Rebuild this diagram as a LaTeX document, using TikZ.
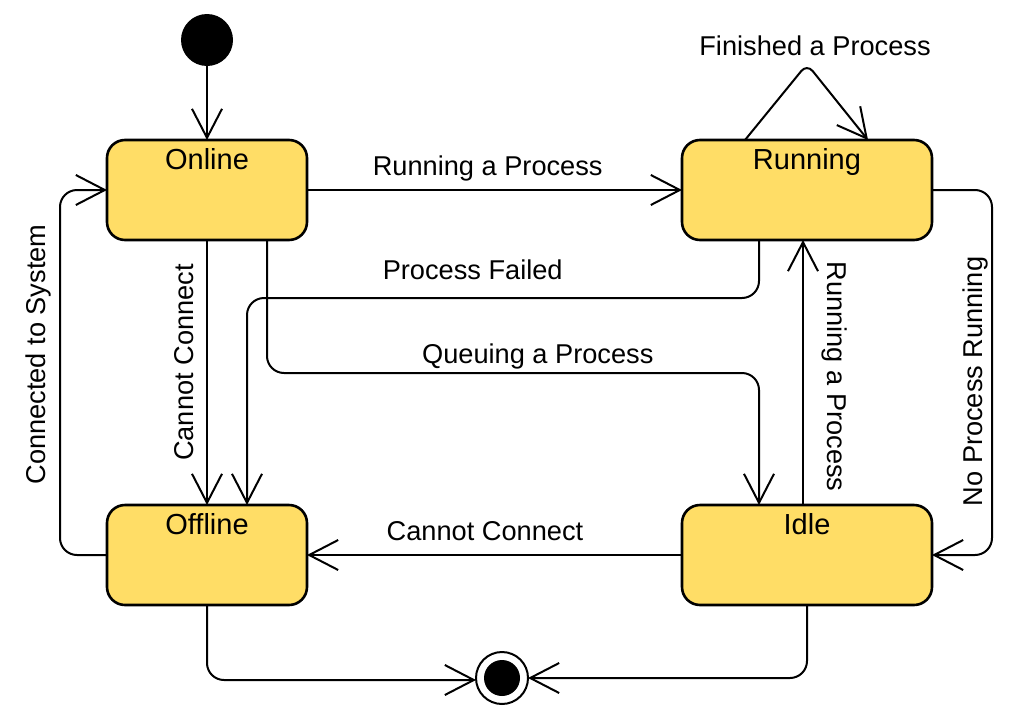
\documentclass[tikz,border=0pt]{standalone}
\usepackage{fontspec}
\setmainfont{Liberation Sans}
\usetikzlibrary{arrows.meta}
\definecolor{stateyellow}{HTML}{FFDD66}
\begin{document}
\begin{tikzpicture}[x=1pt, y=-1pt,
  lbl/.style={font=\fontsize{27.2}{32}\selectfont, anchor=base, inner sep=0pt},
  statebox/.style={draw, line width=2.6pt, fill=stateyellow, rounded corners=18pt,
    minimum width=200pt, minimum height=100pt, outer sep=0pt},
  widebox/.style={statebox, minimum width=250pt},
  boxlbl/.style={lbl, font=\fontsize{29}{34}\selectfont, yshift=-29.3pt},
  startdot/.style={circle, fill=black, minimum size=52pt, inner sep=0pt, outer sep=0pt},
  enddot/.style={circle, draw, line width=2pt, fill=white, minimum size=52pt, inner sep=0pt, outer sep=0pt,
    path picture={\fill[black] (path picture bounding box.center) circle (18pt);}},
  trans/.style={draw, line width=2pt, rounded corners=17pt, -{Straight Barb[length=29pt, width=30pt]}}]
\useasboundingbox (0,0) rectangle (1009,715);
% states
\node[startdot] (init) at (207,40) {};
\node[statebox, label={[boxlbl]north:Online}] (online) at (207,190) {};
\node[widebox, label={[boxlbl]north:Running}] (running) at (807,190) {};
\node[statebox, label={[boxlbl]north:Offline}] (offline) at (207,555) {};
\node[widebox, label={[boxlbl]north:Idle}] (idle) at (807,555) {};
\node[enddot] (final) at (502,678) {};
% transitions
\draw[trans] (init) -- (online);
\draw[trans] (online) -- (running);
\draw[trans, rounded corners=9pt] ([xshift=-62pt]running.north) -- ([yshift=76pt]running.north) -- ([xshift=61pt]running.north);
\draw[trans] ([xshift=-48pt]running.south) -- ++(0,58) -| ([xshift=40pt]offline.north);
\draw[trans] ([xshift=60pt]online.south) -- ++(0,133) -| ([xshift=-48pt]idle.north);
\draw[trans] (online) -- (offline);
\draw[trans] (offline.west) -- ++(-47,0) |- (online.west);
\draw[trans] ([xshift=-4pt]idle.north) -- ([xshift=-4pt]running.south);
\draw[trans] (running.east) -- ++(60,0) |- (idle.east);
\draw[trans] (idle) -- (offline);
\draw[trans] (offline.south) |- ([yshift=-2pt]final.west);
\draw[trans] (idle.south) |- (final.east);
% labels
\node[lbl] (lRunH) at (487.7,175) {Running a Process};
\node[lbl] (lFinish) at (815,55) {Finished a Process};
\node[lbl] (lFail) at (472.7,279.3) {Process Failed};
\node[lbl] (lQueue) at (537.8,363.3) {Queuing a Process};
\node[lbl] (lCannotH) at (485,540) {Cannot Connect};
\node[lbl, rotate=90] (lCannotV) at (193.3,362.5) {Cannot Connect};
\node[lbl, rotate=90] (lConnect) at (45.5,354.5) {Connected to System};
\node[lbl, rotate=90] (lNoProc) at (982,381.5) {No Process Running};
\node[lbl, rotate=-90] (lRunV) at (827,376.5) {Running a Process};
\end{tikzpicture}
\end{document}
